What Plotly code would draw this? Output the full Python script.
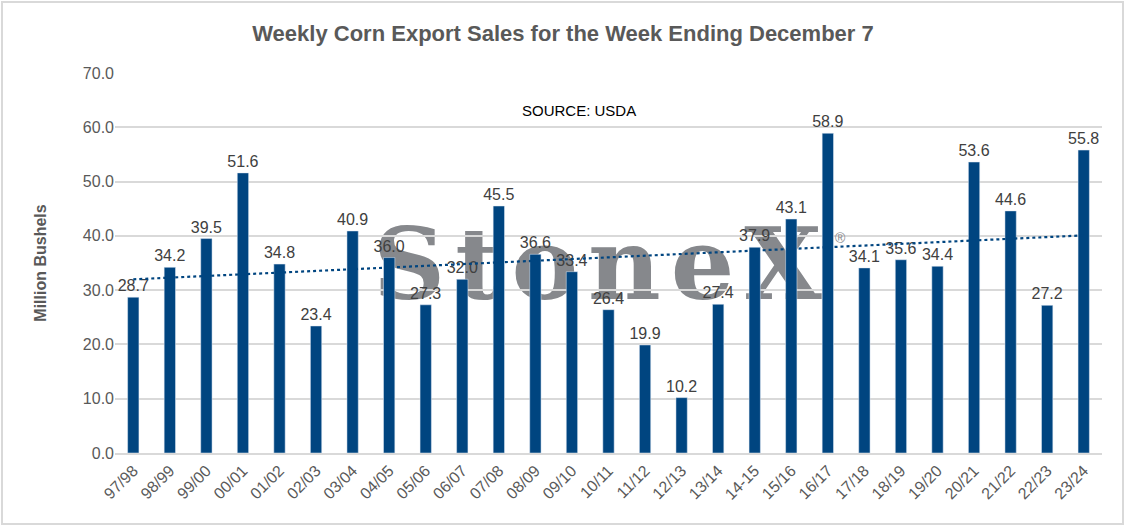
import numpy as np
import plotly.graph_objects as go

# marketing years and weekly corn export sales (million bushels)
years = ["97/98", "98/99", "99/00", "00/01", "01/02", "02/03", "03/04", "04/05",
         "05/06", "06/07", "07/08", "08/09", "09/10", "10/11", "11/12", "12/13",
         "13/14", "14-15", "15/16", "16/17", "17/18", "18/19", "19/20", "20/21",
         "21/22", "22/23", "23/24"]
sales = [28.7, 34.2, 39.5, 51.6, 34.8, 23.4, 40.9, 36.0, 27.3, 32.0, 45.5, 36.6,
         33.4, 26.4, 19.9, 10.2, 27.4, 37.9, 43.1, 58.9, 34.1, 35.6, 34.4, 53.6,
         44.6, 27.2, 55.8]
y_ticks = [0, 10, 20, 30, 40, 50, 60, 70]

# linear trendline like the spreadsheet one
idx = np.arange(len(sales))
slope, icpt = np.polyfit(idx, sales, 1)
trend = slope * idx + icpt

BLUE = "#004580"
GREY = "#595959"
MARK = "#86888c"

fig = go.Figure()
fig.add_trace(go.Bar(
    x=years, y=sales,
    marker_color=BLUE,
    text=[f"{v:.1f}" for v in sales],
    textposition="outside",
    constraintext="none",
    textfont=dict(size=16, color="#404040", family="Liberation Sans, Arial"),
    cliponaxis=False,
    hoverinfo="x+y",
))
fig.add_trace(go.Scatter(
    x=years, y=trend, mode="lines",
    line=dict(color=BLUE, width=2.2, dash="dot"),
    hoverinfo="skip",
))

L, R, T, B = 115, 24, 73, 74
W, H = 1126, 527
pw, ph = W - L - R, H - T - B

fig.update_layout(
    width=W, height=H,
    margin=dict(l=L, r=R, t=T, b=B),
    paper_bgcolor="white", plot_bgcolor="white",
    showlegend=False,
    bargap=0.69,
    font=dict(family="Liberation Sans, Arial", color=GREY),
    title=dict(text="<b>Weekly Corn Export Sales for the Week Ending December 7</b>",
               x=0.5, xanchor="center", y=1 - 33 / H, yanchor="middle",
               font=dict(size=22, color=GREY)),
    xaxis=dict(tickangle=-45, tickfont=dict(size=16, color=GREY),
               showline=True, linecolor="#d9d9d9", linewidth=2,
               ticks="", showgrid=False),
    yaxis=dict(range=[0, 70], tickvals=y_ticks,
               ticktext=[f"{v:.1f}" for v in y_ticks],
               tickfont=dict(size=16, color=GREY),
               gridcolor="#d9d9d9", gridwidth=1.5, zeroline=False,
               ticks="", ticklen=0,
               title=dict(text="<b>Million Bushels</b>", font=dict(size=16, color=GREY),
                          standoff=32)),
)

fig.add_annotation(text="SOURCE: USDA", x=0.47, y=0.93, xref="paper", yref="paper",
                   showarrow=False, font=dict(size=15, color="black"))

# StoneX watermark behind the bars
logo = "\u200a".join("StoneX")
fig.add_shape(type="rect", xref="x", yref="y", x0=6.4, x1=19.0, y0=29.9, y1=41.9,
              line=dict(width=0), fillcolor="rgba(0,0,0,0)", layer="below",
              label=dict(text=f"<b>{logo}</b>", textposition="middle center",
                         font=dict(family="DejaVu Serif", size=100, color=MARK)))
fig.add_annotation(text="®", x=19.35, y=39.6, xref="x", yref="y", showarrow=False,
                   font=dict(size=14, color=MARK))

# outer chart border
fig.add_shape(type="rect", xref="paper", yref="paper",
              x0=(2 - L) / pw, x1=(W - 3 - L) / pw,
              y0=-(B - 3) / ph, y1=1 + (T - 2) / ph,
              line=dict(color="#d9d9d9", width=2), fillcolor="rgba(0,0,0,0)")

fig.write_html("out.html", config={"displayModeBar": False},
               post_script="document.body.style.margin='0';")
